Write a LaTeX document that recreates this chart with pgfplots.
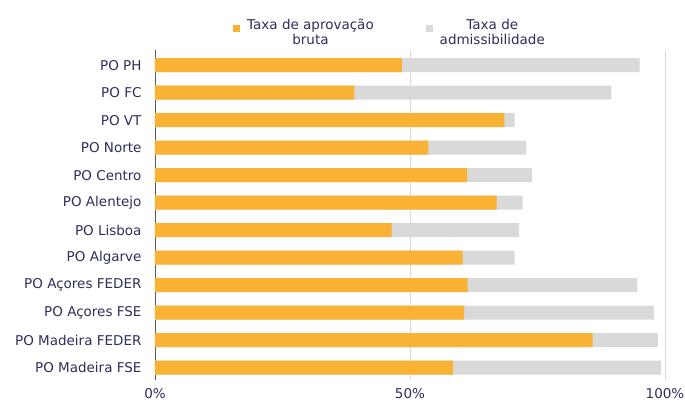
\documentclass[border=0pt]{standalone}
\usepackage{pgfplots}
\pgfplotsset{compat=1.18}
\usepackage{fontspec}
\setmainfont{DejaVu Sans}
\definecolor{aprov}{HTML}{F9B233}
\definecolor{admis}{HTML}{D9D9D9}
\definecolor{txt}{HTML}{2E2E5C}
\begin{document}
\begin{tikzpicture}
\begin{axis}[
    scale only axis,
    width=510pt, height=330pt,
    xmin=0, xmax=100,
    ymin=0.45, ymax=12.45,
    y dir=reverse,
    xbar, bar width=14pt, bar shift=0pt,
    ytick={1,...,12},
    yticklabels={PO PH,PO FC,PO VT,PO Norte,PO Centro,PO Alentejo,PO Lisboa,PO Algarve,PO Açores FEDER,PO Açores FSE,PO Madeira FEDER,PO Madeira FSE},
    xtick={0,50,100},
    xticklabels={0\%,50\%,100\%},
    major tick length=0pt,
    ticklabel style={font=\fontsize{13.5}{15}\selectfont, text=txt},
    yticklabel style={xshift=-10pt},
    xticklabel style={yshift=-5pt},
    xmajorgrids, grid style={gray!30, line width=0.8pt},
    axis x line*=bottom, axis y line*=left,
    x axis line style={draw=none},
    y axis line style={draw=gray!70!black, line width=0.8pt},
    clip=false,
    legend style={at={(0.5,1.0)}, anchor=south, xshift=-20pt, draw=none, fill=none,
      legend columns=2, font=\fontsize{13.5}{14.5}\selectfont, text=txt,
      cells={align=center},
      /tikz/every odd column/.append style={column sep=5pt},
      /tikz/every even column/.append style={column sep=50pt}},
    legend image code/.code={\fill[#1, draw=none] (0pt,1pt) rectangle (7pt,8pt);},
]
\addlegendimage{fill=aprov, draw=none}
\addlegendentry{Taxa de aprovação\\bruta}
\addlegendimage{fill=admis, draw=none}
\addlegendentry{Taxa de\\admissibilidade}

\addplot[fill=admis, draw=none, forget plot] coordinates {
(95.0,1) (89.5,2) (70.5,3) (72.8,4) (73.9,5) (72.1,6) (71.4,7) (70.5,8) (94.6,9) (97.8,10) (98.6,11) (99.2,12)
};
\addplot[fill=aprov, draw=none, forget plot] coordinates {
(48.4,1) (39.1,2) (68.5,3) (53.6,4) (61.2,5) (67.0,6) (46.4,7) (60.3,8) (61.3,9) (60.6,10) (85.8,11) (58.4,12)
};
\end{axis}
\pgfresetboundingbox
\path[use as bounding box] ([xshift=-155pt,yshift=-27pt]current axis.south west) rectangle ([xshift=20pt,yshift=50pt]current axis.north east);
\end{tikzpicture}
\end{document}
